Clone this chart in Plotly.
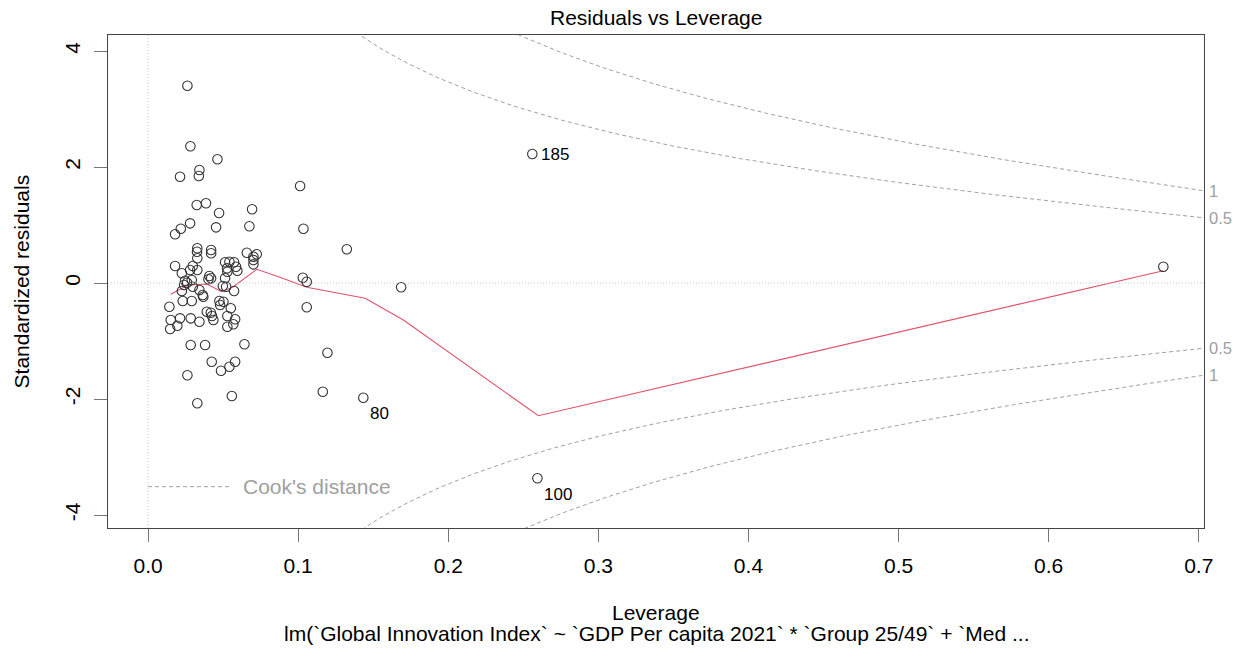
import numpy as np
import plotly.graph_objects as go

# Leverage (hat values) and standardized residuals of the fitted model
leverage = [
    0.0262, 0.0282, 0.0462, 0.0342, 0.0338, 0.0213, 0.0324, 0.0386, 0.0473, 0.0693,
    0.0280, 0.0218, 0.0453, 0.0675, 0.0180, 0.0328, 0.0420, 0.0420, 0.0328, 0.0658,
    0.0724, 0.0702, 0.0702, 0.0702, 0.0180, 0.0298, 0.0280, 0.0328, 0.0225, 0.0513,
    0.0542, 0.0573, 0.0595, 0.0528, 0.0408, 0.0420, 0.0402, 0.0513, 0.0246, 0.0291,
    0.0240, 0.0298, 0.0225, 0.0342, 0.0498, 0.0520, 0.0573, 0.0364, 0.0368, 0.0231,
    0.0291, 0.0475, 0.0502, 0.0480, 0.0142, 0.0551, 0.0391, 0.0418, 0.0213, 0.0284,
    0.0151, 0.0342, 0.0435, 0.0528, 0.0580, 0.0568, 0.0528, 0.0195, 0.0147, 0.0284,
    0.0380, 0.0642, 0.0424, 0.0580, 0.0542, 0.0486, 0.0262, 0.0558, 0.0328, 0.1013,
    0.1035, 0.1324, 0.1031, 0.1057, 0.1686, 0.1057, 0.1195, 0.1164, 0.1434, 0.2560,
    0.2594, 0.6764, 0.0526, 0.0586, 0.0426, 0.0326, 0.0260,
]
std_resid = [
    3.400, 2.357, 2.133, 1.948, 1.845, 1.833, 1.345, 1.374, 1.207, 1.271,
    1.029, 0.936, 0.960, 0.978, 0.840, 0.598, 0.569, 0.512, 0.426, 0.522,
    0.495, 0.453, 0.322, 0.397, 0.293, 0.293, 0.224, 0.224, 0.167, 0.357,
    0.367, 0.357, 0.212, 0.195, 0.121, 0.081, 0.064, 0.081, 0.040, 0.052,
    -0.034, -0.064, -0.138, -0.121, -0.052, -0.064, -0.138, -0.207, -0.236, -0.310,
    -0.310, -0.310, -0.322, -0.379, -0.409, -0.436, -0.495, -0.512, -0.609, -0.609,
    -0.638, -0.667, -0.638, -0.569, -0.626, -0.712, -0.753, -0.736, -0.793, -1.069,
    -1.069, -1.057, -1.357, -1.357, -1.443, -1.512, -1.591, -1.948, -2.074, 1.672,
    0.936, 0.581, 0.091, 0.022, -0.074, -0.419, -1.202, -1.874, -1.978, 2.224,
    -3.367, 0.281, 0.253, 0.281, -0.569, 0.540, 0.005,
]

# Labelled observations
id_labels = ["185", "80", "100"]
id_leverage = [0.2560, 0.1434, 0.2594]
id_resid = [2.224, -1.978, -3.367]
id_xshift = [22, 15, 20]
id_yshift = [0, -16, -16]

# Smoothed trend of the residuals
smooth_lev = [0.0151, 0.0267, 0.0391, 0.0491, 0.0566, 0.0724, 0.0879, 0.1057,
              0.1446, 0.1701, 0.2600, 0.6764]
smooth_res = [-0.195, -0.034, -0.017, -0.150, -0.069, 0.236, 0.098, -0.074,
              -0.264, -0.638, -2.288, 0.212]

# Number of model coefficients and Cook's distance contour levels
n_coef = 6
cook_levels = [0.5, 1]

X_RANGE = [-0.0267, 0.7035]
Y_RANGE = [-4.224, 4.276]
FONT = "Liberation Sans, Arial, sans-serif"
GREY = "#a0a0a0"

fig = go.Figure()

# Cook's distance contours: r = ±sqrt(D * p * (1 - h) / h)
hh = np.linspace(0.005, X_RANGE[1], 200)
for lev in cook_levels:
    r = np.sqrt(lev * n_coef * (1 - hh) / hh)
    for sgn in (1, -1):
        fig.add_trace(go.Scatter(
            x=hh, y=sgn * r, mode="lines",
            line=dict(color=GREY, width=1, dash="4px,3px"),
            hoverinfo="skip", showlegend=False,
        ))

# Smoothed residual line
fig.add_trace(go.Scatter(
    x=smooth_lev, y=smooth_res, mode="lines",
    line=dict(color="#DF536B", width=1.1),
    hoverinfo="skip", showlegend=False,
))

# Observations
fig.add_trace(go.Scatter(
    x=leverage, y=std_resid, mode="markers",
    marker=dict(symbol="circle-open", size=9.5, color="#333333", line=dict(width=1.1)),
    showlegend=False,
))

# Dotted reference lines at zero
fig.add_shape(type="line", xref="x", yref="paper", x0=0, x1=0, y0=0, y1=1,
              line=dict(color="#c8c8c8", width=1, dash="1px,2px"))
fig.add_shape(type="line", xref="paper", yref="y", x0=0, x1=1, y0=0, y1=0,
              line=dict(color="#c8c8c8", width=1, dash="1px,2px"))

# Observation labels
for lab, xv, yv, dx, dy in zip(id_labels, id_leverage, id_resid, id_xshift, id_yshift):
    fig.add_annotation(x=xv, y=yv, text=lab, showarrow=False, xshift=dx + 1, yshift=dy,
                       font=dict(family=FONT, size=17, color="black"))

# Labels for the contour levels on the right edge
for lev in cook_levels:
    rv = np.sqrt(lev * n_coef * (1 - X_RANGE[1]) / X_RANGE[1])
    for sgn in (1, -1):
        fig.add_annotation(xref="paper", x=1.0, y=sgn * rv, yref="y", text=f"{lev:g}",
                           xanchor="left", xshift=3, showarrow=False,
                           font=dict(family=FONT, size=16.5, color=GREY))

# Legend for the contours
fig.add_shape(type="line", xref="paper", yref="paper", x0=0.0365, x1=0.113,
              y0=0.0838, y1=0.0838, line=dict(color=GREY, width=1, dash="4px,3px"))
fig.add_annotation(xref="paper", yref="paper", x=0.1214, y=0.0838, text="Cook's distance",
                   xanchor="left", yanchor="middle", showarrow=False,
                   font=dict(family=FONT, size=21, color=GREY))

# Titles
fig.add_annotation(xref="paper", yref="paper", x=0.5, y=1.0345, text="Residuals vs Leverage",
                   showarrow=False, yanchor="middle",
                   font=dict(family=FONT, size=21, color="black"))
fig.add_annotation(xref="paper", yref="paper", x=0.5, y=-0.1704, text="Leverage",
                   showarrow=False, yanchor="middle",
                   font=dict(family=FONT, size=21, color="black"))
fig.add_annotation(xref="paper", yref="paper", x=0.5, y=-0.215,
                   text="lm(`Global Innovation Index` ~ `GDP Per capita 2021` * `Group 25/49` + `Med ...",
                   showarrow=False, yanchor="middle",
                   font=dict(family=FONT, size=21, color="black"))
fig.add_annotation(xref="paper", yref="paper", x=-0.0785, y=0.5, text="Standardized residuals",
                   textangle=-90, showarrow=False, xanchor="center", yanchor="middle",
                   font=dict(family=FONT, size=21, color="black"))

x_ticks = [0.0, 0.1, 0.2, 0.3, 0.4, 0.5, 0.6, 0.7]
y_ticks = [-4, -2, 0, 2, 4]

fig.update_xaxes(
    range=X_RANGE, showgrid=False, zeroline=False,
    showline=True, mirror=True, linecolor="#444444", linewidth=1.2,
    ticks="outside", ticklen=13, tickcolor="#777777", tickwidth=1.2,
    tickvals=x_ticks, ticktext=[f"{v:.1f}" for v in x_ticks],
    tickfont=dict(family=FONT, size=21, color="black"), ticklabelstandoff=6,
)
fig.update_yaxes(
    range=Y_RANGE, showgrid=False, zeroline=False,
    showline=True, mirror=True, linecolor="#444444", linewidth=1.2,
    ticks="outside", ticklen=13, tickcolor="#777777", tickwidth=1.2,
    tickvals=y_ticks, ticktext=[str(v) for v in y_ticks], tickangle=-90,
    tickfont=dict(family=FONT, size=21, color="black"), ticklabelstandoff=6,
)

fig.update_layout(
    width=1244, height=656,
    margin=dict(l=108, r=40, t=35, b=128),
    paper_bgcolor="white", plot_bgcolor="white",
    showlegend=False,
)

fig.write_html("out.html")
